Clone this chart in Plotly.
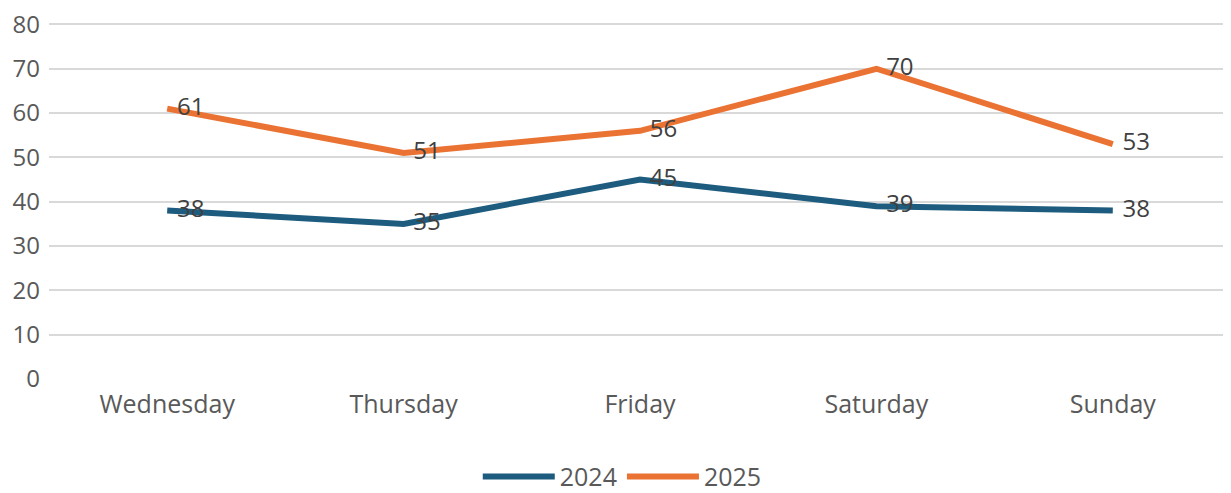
import plotly.graph_objects as go

days = ["Wednesday", "Thursday", "Friday", "Saturday", "Sunday"]
series_2024 = [38, 35, 45, 39, 38]
series_2025 = [61, 51, 56, 70, 53]
y_ticks = [0, 10, 20, 30, 40, 50, 60, 70, 80]

BLUE = "#1D5C7E"
ORANGE = "#EA7333"
GRAY = "#595959"
FONT = "Open Sans"

fig = go.Figure()
for name, vals, col in [("2024", series_2024, BLUE), ("2025", series_2025, ORANGE)]:
    fig.add_trace(go.Scatter(
        x=days, y=vals, name=name, mode="lines",
        line=dict(color=col, width=6),
    ))
for name, vals, col in [("2024", series_2024, BLUE), ("2025", series_2025, ORANGE)]:
    fig.add_trace(go.Scatter(
        x=days, y=vals, name=name, mode="markers+text", showlegend=False,
        marker=dict(size=14, opacity=0, color=col),
        text=[str(v) for v in vals], textposition="middle right",
        textfont=dict(family=FONT, size=24, color="#404040"),
        cliponaxis=False, hoverinfo="skip",
    ))

fig.update_layout(
    width=1223, height=485,
    margin=dict(l=41, r=0, t=12, b=114, autoexpand=False),
    paper_bgcolor="white", plot_bgcolor="white",
    font=dict(family=FONT, size=24, color=GRAY),
    showlegend=True,
    legend=dict(orientation="h", x=0.485, xanchor="center", y=-0.272, yanchor="middle",
                font=dict(family=FONT, size=25, color=GRAY), itemwidth=72),
    xaxis=dict(showgrid=False, showline=False, zeroline=False, ticks="",
               range=[-0.5, 4.5], automargin=False, ticklabelstandoff=8,
               tickfont=dict(size=25, color=GRAY)),
    yaxis=dict(range=[0, 81], tickvals=y_ticks, showgrid=True, gridcolor="#D9D9D9",
               gridwidth=2, zeroline=False, showline=False, ticks="", automargin=False,
               ticklabeloverflow="allow", ticklabelstandoff=8,
               tickfont=dict(size=24, color=GRAY)),
)
fig.write_html("out.html")
